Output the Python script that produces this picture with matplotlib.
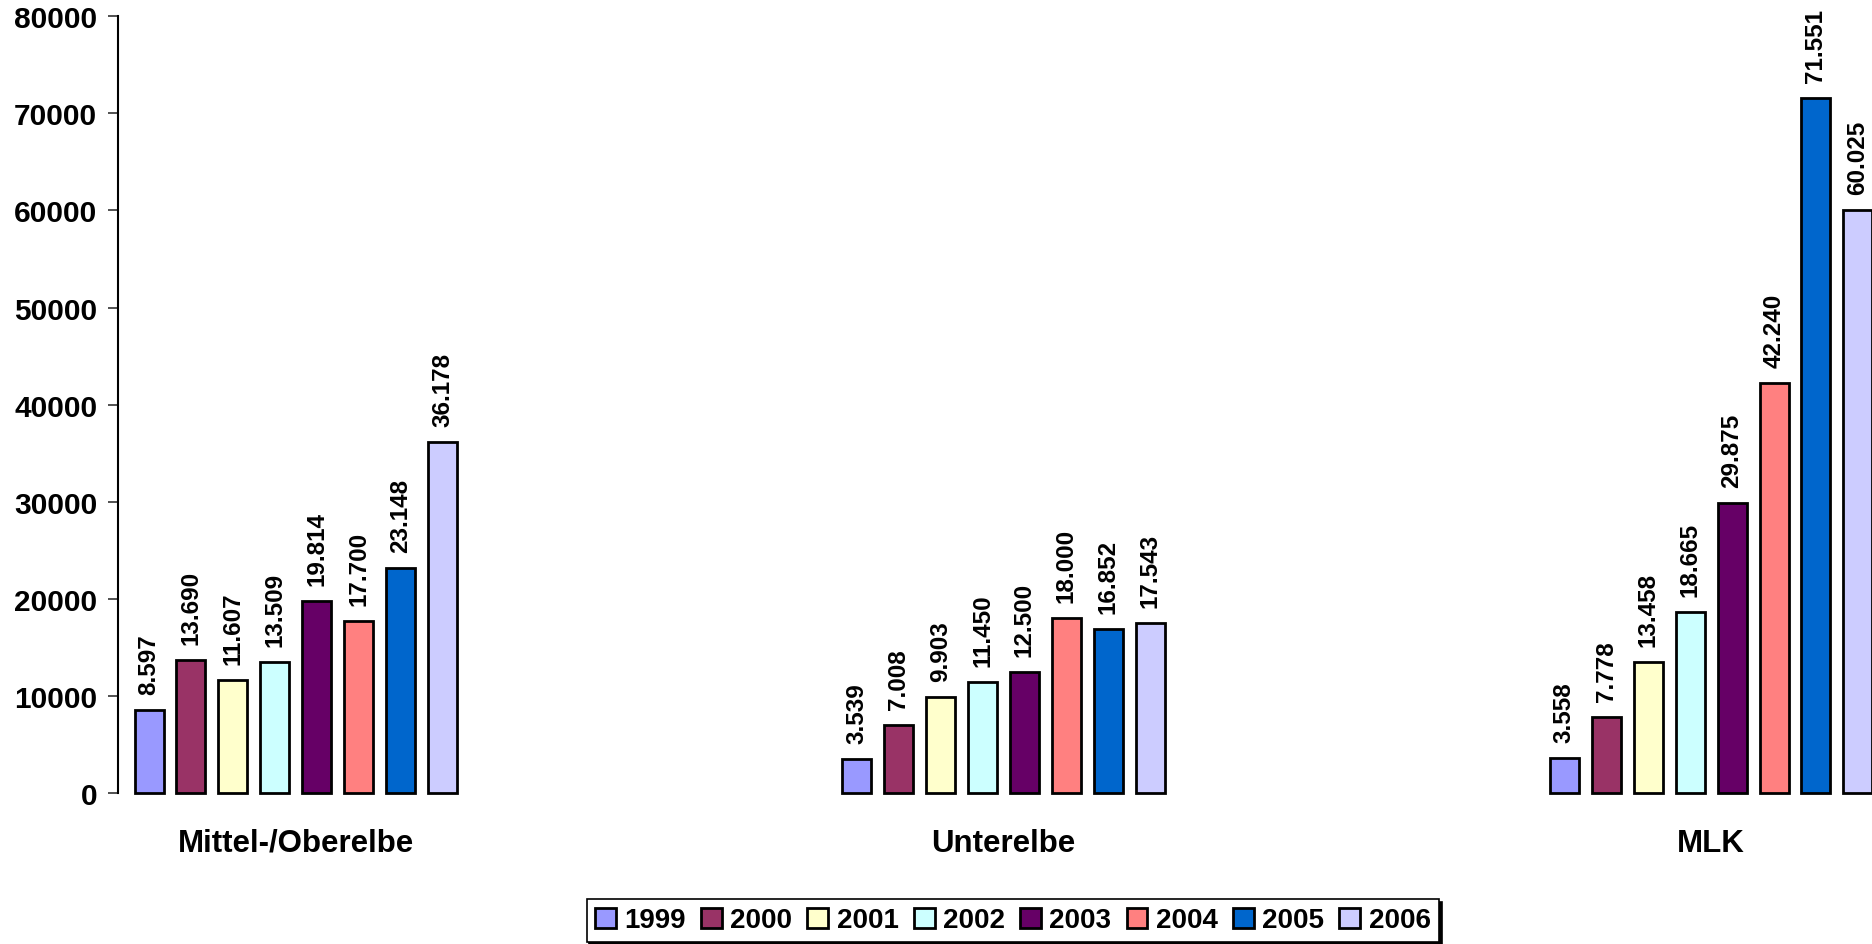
import matplotlib
matplotlib.use("Agg")
import matplotlib.pyplot as plt
import numpy as np

categories = ["Mittel-/Oberelbe", "Unterelbe", "MLK"]
years = ["1999", "2000", "2001", "2002", "2003", "2004", "2005", "2006"]
values = {
    "1999": [8597, 3539, 3558],
    "2000": [13690, 7008, 7778],
    "2001": [11607, 9903, 13458],
    "2002": [13509, 11450, 18665],
    "2003": [19814, 12500, 29875],
    "2004": [17700, 18000, 42240],
    "2005": [23148, 16852, 71551],
    "2006": [36178, 17543, 60025],
}
colors = ["#9999FF", "#993366", "#FFFFCC", "#CCFFFF", "#660066", "#FF8080", "#0066CC", "#CCCCFF"]
yticks = [0, 10000, 20000, 30000, 40000, 50000, 60000, 70000, 80000]

plt.rcParams['font.family'] = ['Liberation Sans', 'DejaVu Sans']
plt.rcParams['font.weight'] = 'bold'

fig = plt.figure(figsize=(18.72, 9.45), dpi=100)
ax = fig.add_axes([118/1872, 1-794/945, 1-118/1872, (794-17.3)/945])

x = np.arange(len(categories))
pitch = 0.0593
width = 0.041
handles = []
for i, yr in enumerate(years):
    off = (i - 3.5) * pitch
    bars = ax.bar(x + off, values[yr], width=width, color=colors[i],
                  edgecolor="black", linewidth=2, label=yr, clip_on=False)
    handles.append(bars)
    for xi, v in zip(x + off, values[yr]):
        lbl = f"{v:,}".replace(",", ".")
        ax.annotate(lbl, (xi, v), xytext=(0, 16), textcoords="offset pixels",
                    rotation=90, ha="center", va="bottom",
                    fontsize=17.5, fontweight="bold", annotation_clip=False)

ax.set_xlim(-0.2514, 2.2274)
ax.set_ylim(0, 80000)
ax.set_yticks(yticks)
ax.set_yticklabels([str(t) for t in yticks], fontsize=21.5, fontweight="bold")
ax.set_xticks(x)
ax.set_xticklabels(categories, fontsize=22.5, fontweight="bold")
ax.tick_params(axis="x", length=0, pad=25)
ax.tick_params(axis="y", length=7, width=1.2, color="#333333", pad=8, direction="out")
for s in ["top", "right", "bottom"]:
    ax.spines[s].set_visible(False)
ax.spines["left"].set_linewidth(1.5)

leg = fig.legend(handles=handles, labels=years, loc="center",
                 bbox_to_anchor=(0.541, 0.025), ncol=8, fontsize=20,
                 frameon=True, fancybox=False, edgecolor="black",
                 shadow={"color": "black", "alpha": 1}, handlelength=0.75,
                 handleheight=0.75, handletextpad=0.3, columnspacing=0.55,
                 borderpad=0.3, borderaxespad=0)
leg.get_frame().set_linewidth(1.2)
for t in leg.get_texts():
    t.set_fontweight("bold")

fig.savefig("out.png", dpi=100)
